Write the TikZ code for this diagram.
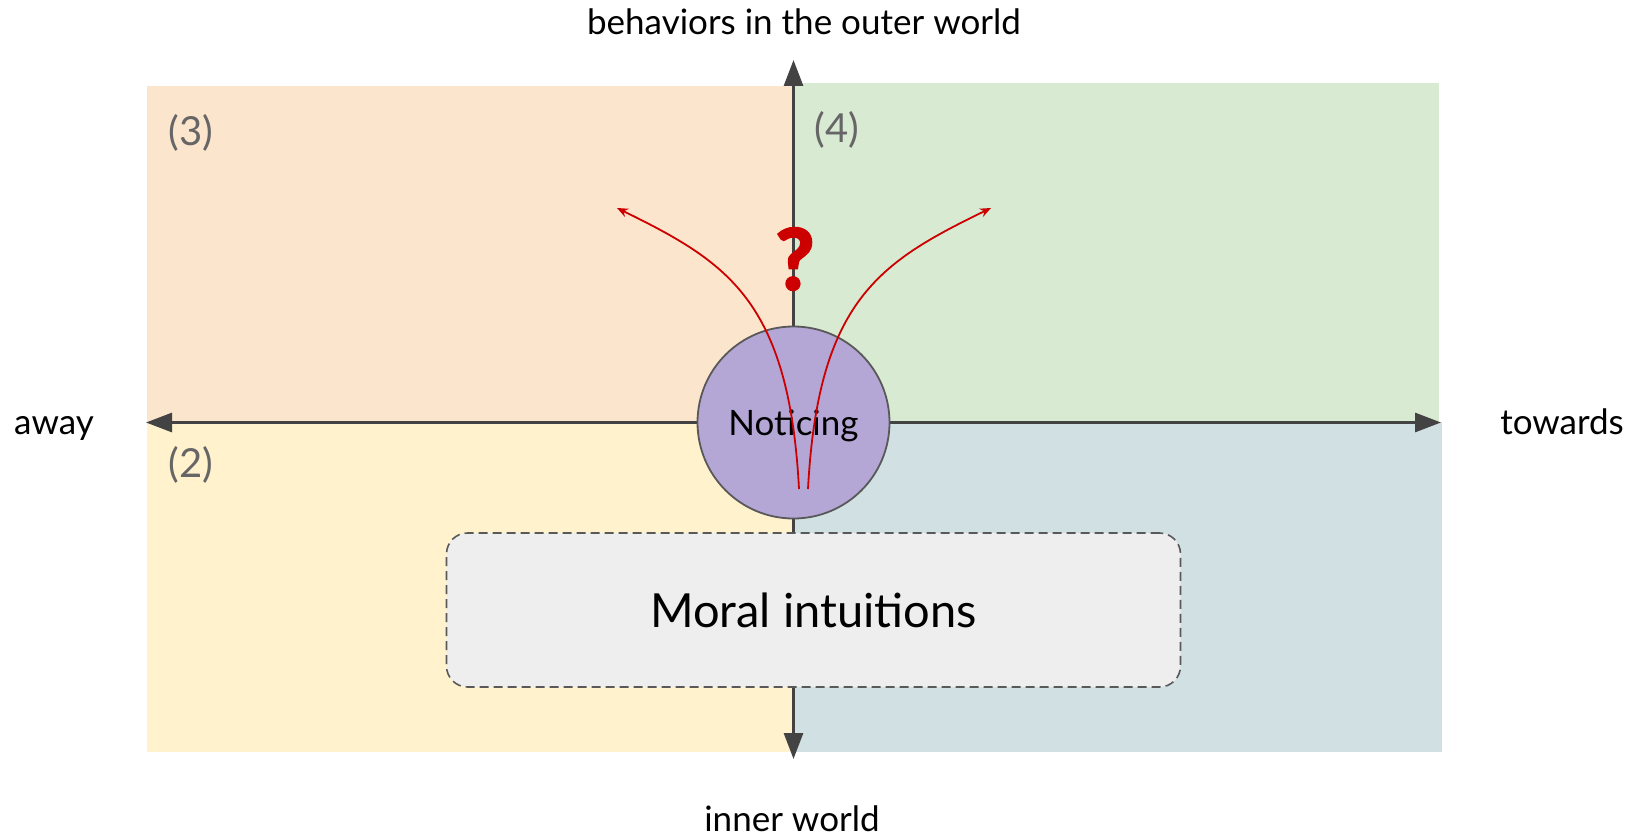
\documentclass[tikz,border=0pt]{standalone}
\usepackage{fontspec}
\setmainfont{Lato}
\newfontfamily\qfont[FakeBold=3]{Lato}
\usetikzlibrary{arrows.meta}
\definecolor{qorange}{HTML}{FCE5CD}
\definecolor{qgreen}{HTML}{D9EAD3}
\definecolor{qyellow}{HTML}{FFF2CC}
\definecolor{qblue}{HTML}{D0E0E3}
\definecolor{axisc}{HTML}{434343}
\definecolor{circfill}{HTML}{B4A7D6}
\definecolor{edgec}{HTML}{595959}
\definecolor{boxfill}{HTML}{EEEEEE}
\definecolor{redc}{HTML}{CC0000}
\definecolor{numc}{HTML}{666666}
\tikzset{
  axisline/.style={draw=axisc, line width=3pt, -{Triangle[length=26pt,width=19pt]}},
  redarrow/.style={draw=redc, line width=1.8pt, -{Stealth[length=11pt,width=9pt]}},
  axislabel/.style={font=\fontsize{35}{40}\selectfont, text=black, inner sep=0pt, anchor=base},
  numlabel/.style={font=\fontsize{40}{44}\selectfont, text=numc, inner sep=0pt},
}
\begin{document}
\begin{tikzpicture}[x=1pt,y=-1pt]
\useasboundingbox (0,0) rectangle (1640,837);
% quadrants
\fill[qorange] (147,86) rectangle (794,422);
\fill[qgreen] (794,83) rectangle (1439,422);
\fill[qyellow] (147,422) rectangle (794,752);
\fill[qblue] (794,422) rectangle (1442,752);
% axis endpoints
\coordinate (top) at (793.5,60);
\coordinate (bot) at (793.5,759);
\coordinate (lft) at (146,422.5);
\coordinate (rgt) at (1441,422.5);
\coordinate (ctr) at (793.5,422.5);
\draw[axisline] (ctr) -- (top);
\draw[axisline] (ctr) -- (bot);
\draw[axisline] (ctr) -- (lft);
\draw[axisline] (ctr) -- (rgt);
% labels
\node[axislabel] (outer) at (804,35) {behaviors in the outer world};
\node[axislabel] (inner) at (792,831) {inner world};
\node[axislabel] (away) at (54,434) {away};
\node[axislabel] (towards) at (1562,434) {towards};
\node[numlabel] (n3) at (191,133) {(3)};
\node[numlabel] (n4) at (837,130) {(4)};
\node[numlabel] (n2) at (191,465) {(2)};
% moral intuitions box
\node[draw=edgec, dash pattern=on 9pt off 5pt, line width=1.6pt, fill=boxfill, rounded corners=21pt,
      minimum width=734pt, minimum height=154pt, inner sep=0pt,
      font=\fontsize{47}{54}\selectfont] (moral) at (813.5,610) {Moral intuitions};
% noticing circle
\node[circle, draw=edgec, line width=1.8pt, fill=circfill, minimum size=192pt, inner sep=0pt,
      text depth=0pt, font=\fontsize{35}{40}\selectfont] (noticing) at (793.5,422.5) {Noticing};
% question mark
\node[text=redc, font=\qfont\bfseries\fontsize{84}{90}\selectfont, inner sep=0pt] (q) at (795,259) {?};
% red arrows
\coordinate (ls) at (799,489);
\coordinate (rs) at (808,489);
\coordinate (le) at (617,208);
\coordinate (re) at (991,208);
\draw[redarrow] (ls) .. controls (789,300) and (727,262) .. (le);
\draw[redarrow] (rs) .. controls (818,300) and (880,262) .. (re);
\end{tikzpicture}
\end{document}
